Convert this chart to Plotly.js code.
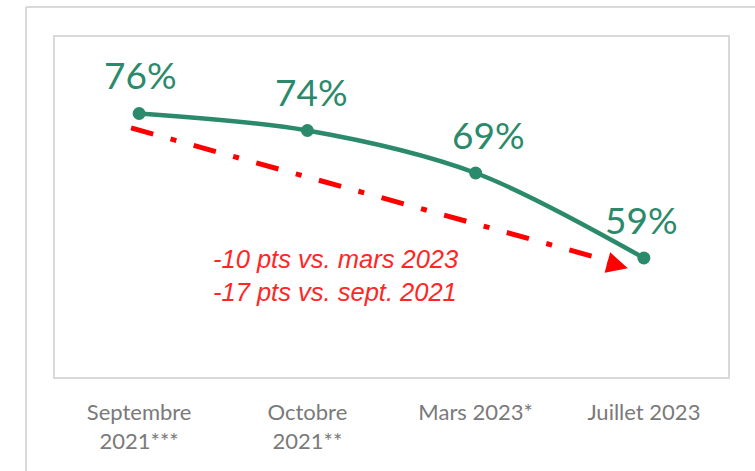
<!DOCTYPE html>
<html>
<head>
<meta charset="utf-8">
<script src="https://cdn.plot.ly/plotly-3.0.1.min.js"></script>
<style>html,body{margin:0;padding:0;background:#fff;}#chart{width:755px;height:471px;}</style>
</head>
<body>
<div id="chart"></div>
<script>
// Data
const categories = ["Septembre<br>2021***", "Octobre<br>2021**", "Mars 2023*", "Juillet 2023"];
const values = [76, 74, 69, 59];
const valueLabels = ["76%", "74%", "69%", "59%"];
const noteLines = ["-10 pts vs. mars 2023", "-17 pts vs. sept. 2021"];

const green = "#2B8A6B";
const red = "#FF0000";
const idx = categories.map((c, i) => i);

const trace = {
  x: idx,
  y: values,
  type: "scatter",
  mode: "lines+markers",
  line: {color: green, width: 4.5, shape: "spline", smoothing: 0.9},
  marker: {color: green, size: 13},
  hoverinfo: "skip"
};

const labelShiftX = [1, 4, 13, -2];
const annotations = values.map((v, i) => ({
  x: i, y: v, xref: "x", yref: "y",
  text: valueLabels[i], showarrow: false,
  xanchor: "center", yanchor: "middle",
  xshift: labelShiftX[i], yshift: 39,
  font: {family: "Lato, 'Open Sans', sans-serif", size: 37, color: green}
}));

// arrow head
annotations.push({
  x: 2.905, y: 57.8, xref: "x", yref: "y",
  ax: -22, ay: -6, axref: "pixel", ayref: "pixel",
  text: "", showarrow: true, arrowhead: 2, arrowsize: 0.85, arrowwidth: 5,
  arrowcolor: red, standoff: 0
});

// note text
annotations.push({
  x: 0.4286, y: 56.9, xref: "x", yref: "y",
  text: noteLines.join("<br>"), showarrow: false,
  xanchor: "left", yanchor: "middle", align: "left",
  font: {family: "'Liberation Sans', Arial, sans-serif", size: 25.5, color: "#FF2626", style: "italic"}
});

const shapes = [
  // outer frame
  {type: "line", xref: "paper", yref: "paper", x0: -0.0431, x1: 1.2, y0: 1.088, y1: 1.088,
   line: {color: "#D9D9D9", width: 2}},
  {type: "line", xref: "paper", yref: "paper", x0: -0.0431, x1: -0.0431, y0: 1.088, y1: -0.5,
   line: {color: "#D9D9D9", width: 2}},
  // dash-dot trend
  {type: "line", xref: "x", yref: "y", x0: -0.048, y0: 74.3, x1: 2.82, y1: 58.5,
   line: {color: red, width: 5, dash: "23px,18px,6px,18px"}}
];

const layout = {
  width: 755, height: 471,
  margin: {l: 55, r: 27, t: 37, b: 94},
  paper_bgcolor: "#ffffff", plot_bgcolor: "#ffffff",
  showlegend: false,
  xaxis: {
    range: [-0.5, 3.5], tickmode: "array", tickvals: idx, ticktext: categories,
    showgrid: false, zeroline: false, showline: true, mirror: true,
    linecolor: "#D9D9D9", linewidth: 2, ticks: "", ticklabelstandoff: 15,
    tickfont: {family: "Lato, 'Open Sans', sans-serif", size: 22, color: "#7A7A7A"},
    fixedrange: true
  },
  yaxis: {
    range: [45, 85], showgrid: false, zeroline: false, showticklabels: false,
    showline: true, mirror: true, linecolor: "#D9D9D9", linewidth: 2, ticks: "",
    fixedrange: true
  },
  shapes: shapes,
  annotations: annotations
};

Plotly.newPlot("chart", [trace], layout, {displayModeBar: false, staticPlot: true});
</script>
</body>
</html>
